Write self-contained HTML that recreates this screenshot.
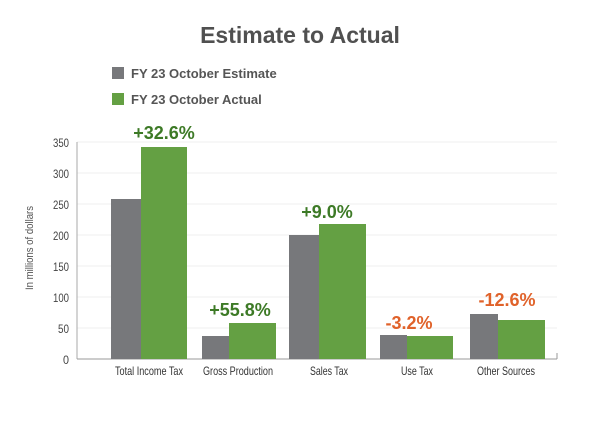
<!DOCTYPE html>
<html><head><style>
body{margin:0;background:#fff;}
</style></head><body>
<svg width="600" height="421" xmlns="http://www.w3.org/2000/svg" font-family="Liberation Sans, sans-serif">
<rect width="600" height="421" fill="#fff"/>
<text x="300" y="43" text-anchor="middle" font-size="23" font-weight="bold" fill="#505050">Estimate to Actual</text>
<rect x="112" y="67" width="12" height="12" fill="#77787b"/>
<text x="131" y="78" font-size="13" font-weight="bold" fill="#555">FY 23 October Estimate</text>
<rect x="112" y="93" width="12" height="12" fill="#64a043"/>
<text x="131" y="104" font-size="13" font-weight="bold" fill="#555">FY 23 October Actual</text>
<g stroke="#efefef" stroke-width="1">
<line x1="77" x2="557" y1="142" y2="142"/><line x1="77" x2="557" y1="173" y2="173"/>
<line x1="77" x2="557" y1="204" y2="204"/><line x1="77" x2="557" y1="235" y2="235"/>
<line x1="77" x2="557" y1="266" y2="266"/><line x1="77" x2="557" y1="297" y2="297"/>
<line x1="77" x2="557" y1="328" y2="328"/>
</g>
<line x1="77" x2="77" y1="142" y2="359" stroke="#aaa"/>
<line x1="77" x2="557" y1="359" y2="359" stroke="#999" stroke-width="1"/>
<line x1="557" x2="557" y1="353" y2="359" stroke="#999"/>
<g font-size="12" fill="#444" text-anchor="end" lengthAdjust="spacingAndGlyphs">
<text x="69" y="147" textLength="16" lengthAdjust="spacingAndGlyphs">350</text>
<text x="69" y="178" textLength="16" lengthAdjust="spacingAndGlyphs">300</text>
<text x="69" y="209" textLength="16" lengthAdjust="spacingAndGlyphs">250</text>
<text x="69" y="240" textLength="16" lengthAdjust="spacingAndGlyphs">200</text>
<text x="69" y="271" textLength="16" lengthAdjust="spacingAndGlyphs">150</text>
<text x="69" y="302" textLength="16" lengthAdjust="spacingAndGlyphs">100</text>
<text x="69" y="333" textLength="11" lengthAdjust="spacingAndGlyphs">50</text>
<text x="69" y="364" textLength="6" lengthAdjust="spacingAndGlyphs">0</text>
</g>
<text transform="translate(33,248) rotate(-90)" text-anchor="middle" font-size="11" fill="#555" textLength="84" lengthAdjust="spacingAndGlyphs">In millions of dollars</text>
<g fill="#77787b">
<rect x="111" y="199" width="30" height="160"/>
<rect x="202" y="336" width="27" height="23"/>
<rect x="289" y="235" width="30" height="124"/>
<rect x="380" y="335" width="27" height="24"/>
<rect x="470" y="314" width="28" height="45"/>
</g>
<g fill="#64a043">
<rect x="141" y="147" width="46" height="212"/>
<rect x="229" y="323" width="47" height="36"/>
<rect x="319" y="224" width="47" height="135"/>
<rect x="407" y="336" width="46" height="23"/>
<rect x="498" y="320" width="47" height="39"/>
</g>
<g font-size="18" font-weight="bold" text-anchor="middle">
<text x="164" y="139" fill="#3d7a26">+32.6%</text>
<text x="240" y="316" fill="#3d7a26">+55.8%</text>
<text x="327" y="218" fill="#3d7a26">+9.0%</text>
<text x="409" y="329" fill="#e0622a">-3.2%</text>
<text x="507" y="306" fill="#e0622a">-12.6%</text>
</g>
<g font-size="12" fill="#333">
<text x="115" y="375" textLength="68" lengthAdjust="spacingAndGlyphs">Total Income Tax</text>
<text x="203" y="375" textLength="70" lengthAdjust="spacingAndGlyphs">Gross Production</text>
<text x="310" y="375" textLength="38" lengthAdjust="spacingAndGlyphs">Sales Tax</text>
<text x="401" y="375" textLength="32" lengthAdjust="spacingAndGlyphs">Use Tax</text>
<text x="477" y="375" textLength="58" lengthAdjust="spacingAndGlyphs">Other Sources</text>
</g>
</svg>
</body></html>
